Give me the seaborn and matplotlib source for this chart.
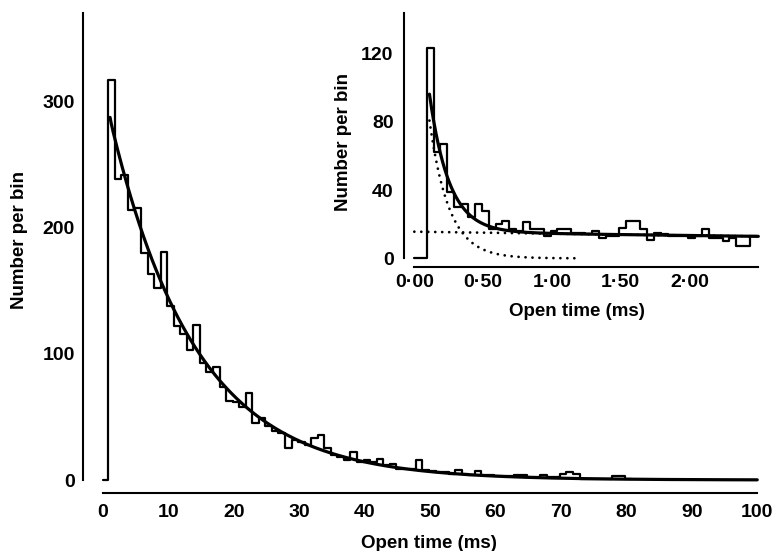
import numpy as np
import pandas as pd
import matplotlib
matplotlib.use("Agg")
import matplotlib.pyplot as plt
import seaborn as sns

# ---------------- data ----------------
# main histogram: 1 ms bins, first bin starts at 0.85 ms
main_first_edge = 0.85
main_bin_width = 1.0
main_counts = [317, 239, 242, 214, 216, 180, 163, 152, 181, 138,
               122, 116, 103, 123, 93, 86, 90, 74, 63, 62,
               58, 69, 45, 49, 43, 39, 37, 25, 32, 30,
               28, 33, 36, 25, 20, 18, 16, 22, 14, 16,
               14, 17, 12, 13, 9, 9, 9, 16, 8, 7,
               6, 6, 5, 8, 5, 4, 7, 4, 4, 3,
               3, 3, 4, 4, 2, 2, 4, 2, 2, 5,
               6, 5, 1, 1, 1, 1, 1, 3, 3, 1]

# inset histogram: 0.05 ms bins, first bin starts at 0.09 ms
inset_first_edge = 0.09
inset_bin_width = 0.05
inset_counts = [123, 62, 67, 39, 30, 32, 24, 32, 28, 17,
                20, 22, 17, 16, 21, 17, 17, 13, 16, 17,
                17, 15, 15, 14, 16, 12, 13, 13, 18, 22,
                22, 17, 11, 15, 14, 13, 13, 13, 12, 13,
                17, 12, 12, 10, 12, 7, 7, 13]

# fitted two-exponential density (events per ms)
fit_fast_amp = 3500.0
fit_fast_tau = 0.142   # ms
fit_slow_amp = 312.0
fit_slow_tau = 13.0    # ms

main_xticks = [0, 10, 20, 30, 40, 50, 60, 70, 80, 90, 100]
main_yticks = [0, 100, 200, 300]
main_yminor = [50, 150, 250]
inset_xticks = [0.0, 0.5, 1.0, 1.5, 2.0]
inset_xtick_labels = ["0·00", "0·50", "1·00", "1·50", "2·00"]
inset_xminor = [0.25, 0.75, 1.25, 1.75, 2.25, 2.5]
inset_yticks = [0, 40, 80, 120]
inset_yminor = [20, 60, 100]

# ---------------- style ----------------
sns.set_style("white")
plt.rcParams["font.family"] = ["Liberation Sans", "DejaVu Sans"]
plt.rcParams["font.weight"] = "bold"
plt.rcParams["text.color"] = "black"
plt.rcParams["axes.labelcolor"] = "black"
plt.rcParams["xtick.color"] = "black"
plt.rcParams["ytick.color"] = "black"

W, H = 774, 551
fig = plt.figure(figsize=(W / 100, H / 100), dpi=100)


def fit_curve(t, width):
    t = np.asarray(t)
    return width * (fit_fast_amp * np.exp(-t / fit_fast_tau)
                    + fit_slow_amp * np.exp(-t / fit_slow_tau))


def step_frame(first_edge, width, counts):
    # outline of the histogram: zero from t=0 to the first edge, then bins
    edges = np.concatenate([[0.0], first_edge + width * np.arange(len(counts) + 1)])
    heights = np.concatenate([[0.0], np.asarray(counts, float), [counts[-1]]])
    return pd.DataFrame({"t": edges, "n": heights})


def style_axes(ax, xb, yb):
    for s in ["top", "right"]:
        ax.spines[s].set_visible(False)
    for s in ["left", "bottom"]:
        ax.spines[s].set_linewidth(1.5)
        ax.spines[s].set_color("black")
    ax.spines["bottom"].set_bounds(*xb)
    ax.spines["left"].set_bounds(*yb)
    ax.set_facecolor("none")
    ax.set_xlabel("")
    ax.set_ylabel("")


# ---------------- main axes ----------------
px_ms = 6.545
px_unit = 1.261
main_xlim = (-3.06, 100.3)
main_ylim = (-10.3, 370)
mw = (main_xlim[1] - main_xlim[0]) * px_ms
mh = (main_ylim[1] - main_ylim[0]) * px_unit
ax = fig.add_axes([82.7 / W, (H - 493) / H, mw / W, mh / H])

df_main = step_frame(main_first_edge, main_bin_width, main_counts)
sns.lineplot(data=df_main, x="t", y="n", drawstyle="steps-post", color="black",
             linewidth=1.6, estimator=None, sort=False, ax=ax)
t_main = np.linspace(1.12, 100, 600)
sns.lineplot(x=t_main, y=fit_curve(t_main, main_bin_width), color="black",
             linewidth=2.3, estimator=None, sort=False, ax=ax)
ax.set_xlim(*main_xlim)
ax.set_ylim(*main_ylim)
style_axes(ax, (0, 100), (0, 370))
ax.set_xticks(main_xticks)
ax.set_xticklabels([str(v) for v in main_xticks])
ax.set_yticks(main_yticks)
ax.set_yticklabels([str(v) for v in main_yticks])
ax.set_yticks(main_yminor, minor=True)
ax.tick_params(axis="both", which="both", direction="in", length=8, width=1.5,
               color="black", labelsize=14, labelcolor="black")
ax.tick_params(axis="x", which="major", pad=8)
ax.tick_params(axis="y", which="both", pad=5.5)
for lab in ax.get_xticklabels() + ax.get_yticklabels():
    lab.set_fontweight("bold")

fig.text(429 / W, 1 - 543 / H, "Open time (ms)", ha="center", va="center",
         fontsize=13.5, fontweight="bold", color="black")
fig.text(20 / W, 1 - 240 / H, "Number per bin", ha="center", va="center",
         rotation=90, fontsize=13.5, fontweight="bold", color="black")

# ---------------- inset axes ----------------
ipx_ms = 137.6
ipx_unit = 1.708
inset_xlim = (-0.075, 2.52)
inset_ylim = (-4.9, 143.4)
iw = (inset_xlim[1] - inset_xlim[0]) * ipx_ms
ih = (inset_ylim[1] - inset_ylim[0]) * ipx_unit
ax2 = fig.add_axes([404 / W, (H - 266.7) / H, iw / W, ih / H])

df_in = step_frame(inset_first_edge, inset_bin_width, inset_counts)
sns.lineplot(data=df_in, x="t", y="n", drawstyle="steps-post", color="black",
             linewidth=1.6, estimator=None, sort=False, ax=ax2)

t_slow = np.linspace(0.0, 2.5, 300)
sns.lineplot(x=t_slow, y=inset_bin_width * fit_slow_amp * np.exp(-t_slow / fit_slow_tau),
             color="black", linewidth=2.0, linestyle=(0, (0.01, 2.5)),
             dash_capstyle="round", estimator=None, sort=False, ax=ax2)
t_fast = np.linspace(0.11, 1.18, 300)
sns.lineplot(x=t_fast, y=inset_bin_width * fit_fast_amp * np.exp(-t_fast / fit_fast_tau),
             color="black", linewidth=2.0, linestyle=(0, (0.01, 2.5)),
             dash_capstyle="round", estimator=None, sort=False, ax=ax2)
t_in = np.linspace(0.11, 2.5, 600)
sns.lineplot(x=t_in, y=fit_curve(t_in, inset_bin_width), color="black",
             linewidth=2.3, estimator=None, sort=False, ax=ax2)

ax2.set_xlim(*inset_xlim)
ax2.set_ylim(*inset_ylim)
style_axes(ax2, (0, 2.5), (0, 143.4))
ax2.set_xticks(inset_xticks)
ax2.set_xticklabels(inset_xtick_labels)
ax2.set_xticks(inset_xminor, minor=True)
ax2.set_yticks(inset_yticks)
ax2.set_yticklabels([str(v) for v in inset_yticks])
ax2.set_yticks(inset_yminor, minor=True)
ax2.tick_params(axis="both", which="both", direction="in", length=7, width=1.5,
                color="black", labelsize=14, labelcolor="black")
ax2.tick_params(axis="x", which="major", pad=5)
ax2.tick_params(axis="y", which="both", pad=7.5)
for lab in ax2.get_xticklabels() + ax2.get_yticklabels():
    lab.set_fontweight("bold")

fig.text(576.7 / W, 1 - 311.5 / H, "Open time (ms)", ha="center", va="center",
         fontsize=13.5, fontweight="bold", color="black")
fig.text(344 / W, 1 - 142 / H, "Number per bin", ha="center", va="center",
         rotation=90, fontsize=13.5, fontweight="bold", color="black")

fig.savefig("out.png", dpi=100)
